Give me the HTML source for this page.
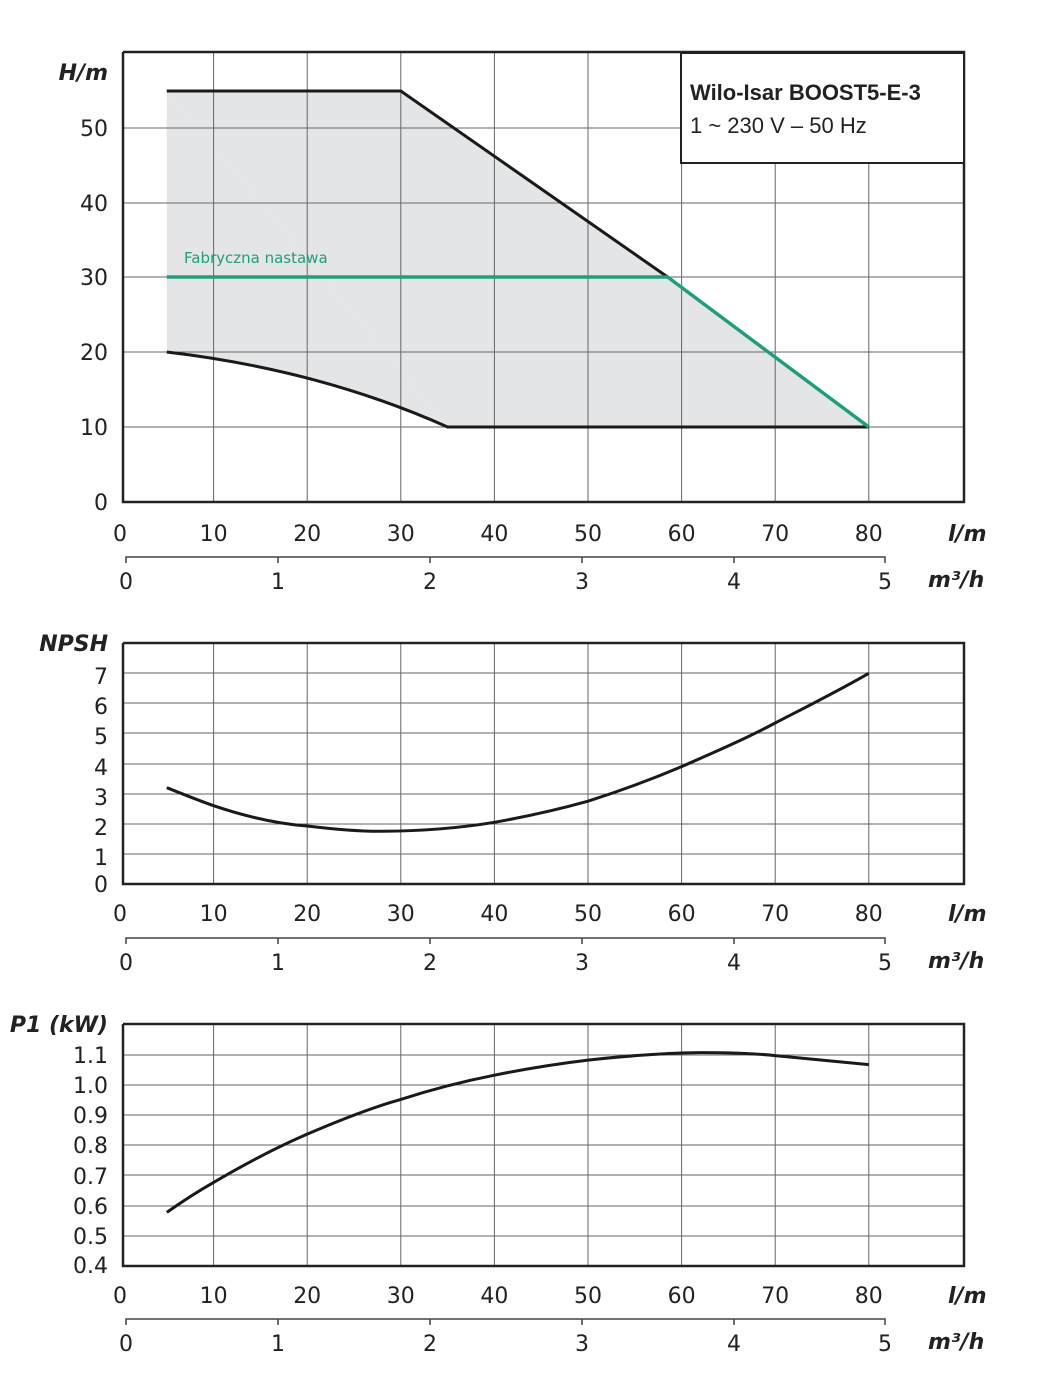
<!DOCTYPE html>
<html><head><meta charset="utf-8"><style>
body{margin:0;background:#fff}
svg{display:block}
text{font-family:"DejaVu Sans","Liberation Sans",sans-serif;fill:#222}
.t{font-size:22px}
.b{font-weight:bold;font-style:italic}
.g{stroke:#666;stroke-width:1}
</style></head><body>
<svg width="1046" height="1400" viewBox="0 0 1046 1400" xmlns="http://www.w3.org/2000/svg">
<!-- TOP CHART -->
<polygon points="166.8,90 400.8,90 667.6,277 868.8,427 447.6,427" fill="#e4e5e6"/>
<path d="M166.8,90 V352 Q320,370 447.6,427 Z" fill="#e4e5e6"/>
<g class="g">
<line x1="213.6" y1="52" x2="213.6" y2="502"/><line x1="307.2" y1="52" x2="307.2" y2="502"/>
<line x1="400.8" y1="52" x2="400.8" y2="502"/><line x1="494.4" y1="52" x2="494.4" y2="502"/>
<line x1="588" y1="52" x2="588" y2="502"/><line x1="681.6" y1="52" x2="681.6" y2="502"/>
<line x1="775.2" y1="52" x2="775.2" y2="502"/><line x1="868.8" y1="52" x2="868.8" y2="502"/>
<line x1="123" y1="427" x2="964" y2="427"/><line x1="123" y1="352" x2="964" y2="352"/>
<line x1="123" y1="277" x2="964" y2="277"/><line x1="123" y1="203" x2="964" y2="203"/>
<line x1="123" y1="128" x2="964" y2="128"/>
</g>
<polyline points="123,52 123,502 964,502 964,52 123,52" fill="none" stroke="#222" stroke-width="2.5"/>
<polyline points="166.8,91 400.8,91 667.6,277" fill="none" stroke="#1a1a1a" stroke-width="3"/>
<path d="M166.8,352 Q320,370 447.6,427 L868.8,427" fill="none" stroke="#1a1a1a" stroke-width="3"/>
<polyline points="166.8,277 667.6,277 868.8,427" fill="none" stroke="#1f9e7e" stroke-width="3.5"/>
<text x="184" y="263" style="font-size:15px;fill:#1f9e7e">Fabryczna nastawa</text>
<rect x="681" y="53" width="283" height="110" fill="#fff" stroke="#222" stroke-width="2"/>
<text x="690" y="100" style="font-family:'Liberation Sans',sans-serif;font-size:22px;font-weight:bold">Wilo-Isar BOOST5-E-3</text>
<text x="690" y="133" style="font-family:'Liberation Sans',sans-serif;font-size:22px">1 ~ 230 V – 50 Hz</text>
<text x="108" y="80" class="t b" text-anchor="end">H/m</text>
<g class="t" text-anchor="end">
<text x="108" y="136">50</text><text x="108" y="211">40</text><text x="108" y="285">30</text>
<text x="108" y="360">20</text><text x="108" y="435">10</text><text x="108" y="510">0</text>
</g>
<g class="t" text-anchor="middle">
<text x="120" y="541">0</text><text x="213.6" y="541">10</text><text x="307.2" y="541">20</text><text x="400.8" y="541">30</text>
<text x="494.4" y="541">40</text><text x="588" y="541">50</text><text x="681.6" y="541">60</text><text x="775.2" y="541">70</text><text x="868.8" y="541">80</text>
</g>
<text x="948" y="541" class="t b">l/m</text>
<path d="M126,563 V557 H885 V563 M278,557 V563 M430,557 V563 M582,557 V563 M734,557 V563" fill="none" stroke="#444" stroke-width="1.5"/>
<g class="t" text-anchor="middle">
<text x="126" y="589">0</text><text x="278" y="589">1</text><text x="430" y="589">2</text><text x="582" y="589">3</text><text x="734" y="589">4</text><text x="885" y="589">5</text>
</g>
<text x="928" y="587" class="t b">m³/h</text>

<!-- NPSH CHART -->
<g class="g">
<line x1="213.6" y1="643" x2="213.6" y2="884"/><line x1="307.2" y1="643" x2="307.2" y2="884"/>
<line x1="400.8" y1="643" x2="400.8" y2="884"/><line x1="494.4" y1="643" x2="494.4" y2="884"/>
<line x1="588" y1="643" x2="588" y2="884"/><line x1="681.6" y1="643" x2="681.6" y2="884"/>
<line x1="775.2" y1="643" x2="775.2" y2="884"/><line x1="868.8" y1="643" x2="868.8" y2="884"/>
<line x1="123" y1="854" x2="964" y2="854"/><line x1="123" y1="824" x2="964" y2="824"/>
<line x1="123" y1="794" x2="964" y2="794"/><line x1="123" y1="764" x2="964" y2="764"/>
<line x1="123" y1="733" x2="964" y2="733"/><line x1="123" y1="703" x2="964" y2="703"/>
<line x1="123" y1="673" x2="964" y2="673"/>
</g>
<polyline points="123,643 123,884 964,884 964,643 123,643" fill="none" stroke="#222" stroke-width="2.5"/>
<path d="M166.8,787.7 C185,795 200,801 213.6,805.7 C250,818 280,824 307.2,826 C340,830 360,831.5 382.1,831.3 C420,831 460,828 494.4,822.3 C530,816 560,809 588,801.2 C620,791 650,780 681.6,766.6 C715,752 745,739 775.2,723 C810,705 840,690 868.8,673.3" fill="none" stroke="#1a1a1a" stroke-width="3"/>
<text x="108" y="651" class="t b" text-anchor="end">NPSH</text>
<g class="t" text-anchor="end">
<text x="108" y="684">7</text><text x="108" y="714">6</text><text x="108" y="744">5</text><text x="108" y="775">4</text>
<text x="108" y="805">3</text><text x="108" y="835">2</text><text x="108" y="865">1</text><text x="108" y="892">0</text>
</g>
<g class="t" text-anchor="middle">
<text x="120" y="921">0</text><text x="213.6" y="921">10</text><text x="307.2" y="921">20</text><text x="400.8" y="921">30</text>
<text x="494.4" y="921">40</text><text x="588" y="921">50</text><text x="681.6" y="921">60</text><text x="775.2" y="921">70</text><text x="868.8" y="921">80</text>
</g>
<text x="948" y="921" class="t b">l/m</text>
<path d="M126,944 V938 H885 V944 M278,938 V944 M430,938 V944 M582,938 V944 M734,938 V944" fill="none" stroke="#444" stroke-width="1.5"/>
<g class="t" text-anchor="middle">
<text x="126" y="970">0</text><text x="278" y="970">1</text><text x="430" y="970">2</text><text x="582" y="970">3</text><text x="734" y="970">4</text><text x="885" y="970">5</text>
</g>
<text x="928" y="968" class="t b">m³/h</text>

<!-- P1 CHART -->
<g class="g">
<line x1="213.6" y1="1024" x2="213.6" y2="1266"/><line x1="307.2" y1="1024" x2="307.2" y2="1266"/>
<line x1="400.8" y1="1024" x2="400.8" y2="1266"/><line x1="494.4" y1="1024" x2="494.4" y2="1266"/>
<line x1="588" y1="1024" x2="588" y2="1266"/><line x1="681.6" y1="1024" x2="681.6" y2="1266"/>
<line x1="775.2" y1="1024" x2="775.2" y2="1266"/><line x1="868.8" y1="1024" x2="868.8" y2="1266"/>
<line x1="123" y1="1236" x2="964" y2="1236"/><line x1="123" y1="1206" x2="964" y2="1206"/>
<line x1="123" y1="1175" x2="964" y2="1175"/><line x1="123" y1="1145" x2="964" y2="1145"/>
<line x1="123" y1="1115" x2="964" y2="1115"/><line x1="123" y1="1085" x2="964" y2="1085"/>
<line x1="123" y1="1055" x2="964" y2="1055"/>
</g>
<polyline points="123,1024 123,1266 964,1266 964,1024 123,1024" fill="none" stroke="#222" stroke-width="2.5"/>
<path d="M166.8,1212.4 C180,1203 195,1193 213.6,1182.4 C245,1164 275,1148 307.2,1134.1 C340,1120 370,1108 400.8,1099.4 C430,1090 460,1082 494.4,1075.2 C525,1069 555,1064 588,1060.1 C625,1056 660,1053 700.3,1052.6 C730,1052.5 755,1053.5 775.2,1055.6 C810,1059 840,1062 868.8,1064.6" fill="none" stroke="#1a1a1a" stroke-width="3"/>
<text x="108" y="1032" class="t b" text-anchor="end">P1 (kW)</text>
<g class="t" text-anchor="end">
<text x="108" y="1063">1.1</text><text x="108" y="1093">1.0</text><text x="108" y="1123">0.9</text><text x="108" y="1153">0.8</text>
<text x="108" y="1184">0.7</text><text x="108" y="1214">0.6</text><text x="108" y="1244">0.5</text><text x="108" y="1273">0.4</text>
</g>
<g class="t" text-anchor="middle">
<text x="120" y="1303">0</text><text x="213.6" y="1303">10</text><text x="307.2" y="1303">20</text><text x="400.8" y="1303">30</text>
<text x="494.4" y="1303">40</text><text x="588" y="1303">50</text><text x="681.6" y="1303">60</text><text x="775.2" y="1303">70</text><text x="868.8" y="1303">80</text>
</g>
<text x="948" y="1303" class="t b">l/m</text>
<path d="M126,1325 V1319 H885 V1325 M278,1319 V1325 M430,1319 V1325 M582,1319 V1325 M734,1319 V1325" fill="none" stroke="#444" stroke-width="1.5"/>
<g class="t" text-anchor="middle">
<text x="126" y="1351">0</text><text x="278" y="1351">1</text><text x="430" y="1351">2</text><text x="582" y="1351">3</text><text x="734" y="1351">4</text><text x="885" y="1351">5</text>
</g>
<text x="928" y="1349" class="t b">m³/h</text>
</svg>
</body></html>
